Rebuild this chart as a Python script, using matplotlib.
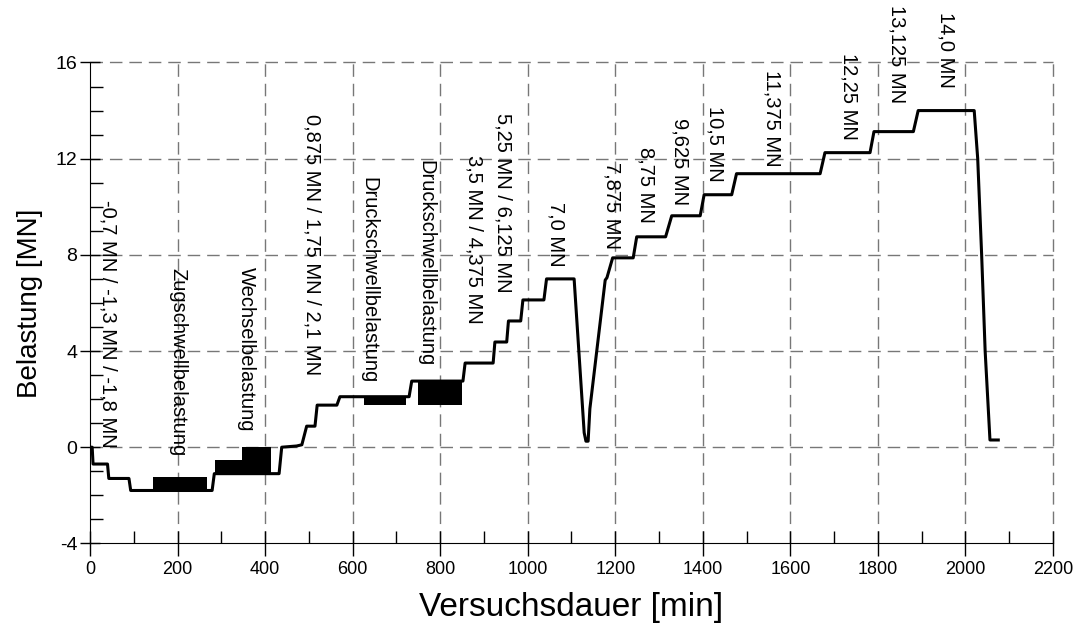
import matplotlib
matplotlib.use('Agg')
import matplotlib.pyplot as plt
from matplotlib.ticker import MultipleLocator

plt.rcParams['font.family'] = ['Liberation Sans', 'DejaVu Sans']
plt.rcParams['axes.unicode_minus'] = False

# load history: time [min] / load [MN]
time_min = [0, 5, 7, 40, 43, 89, 93, 279, 284, 432, 438, 472, 484, 495, 514, 519,
            564, 571, 729, 735, 852, 857, 921, 925, 952, 956, 984, 989, 1037, 1043,
            1106, 1129, 1133, 1138, 1142, 1177, 1181, 1194, 1241, 1249, 1315, 1329,
            1394, 1403, 1466, 1477, 1668, 1679, 1782, 1791, 1881, 1892, 2020, 2028,
            2037, 2045, 2056, 2075]
load_mn = [0, 0, -0.7, -0.7, -1.3, -1.3, -1.8, -1.8, -1.1, -1.1, 0.0, 0.05, 0.1,
           0.875, 0.875, 1.75, 1.75, 2.1, 2.1, 2.75, 2.75, 3.5, 3.5, 4.375, 4.375,
           5.25, 5.25, 6.125, 6.125, 7.0, 7.0, 0.6, 0.25, 0.25, 1.6, 6.95, 7.05,
           7.875, 7.875, 8.75, 8.75, 9.625, 9.625, 10.5, 10.5, 11.375, 11.375, 12.25,
           12.25, 13.125, 13.125, 14.0, 14.0, 12.0, 8.0, 4.0, 0.3, 0.3]

# cyclic loading blocks (shown as solid black bands)
block_start = [145, 286, 348, 627, 750]
block_end = [267, 348, 413, 722, 849]
block_low = [-1.8, -1.1, -1.1, 1.75, 1.75]
block_high = [-1.25, -0.55, 0.0, 2.1, 2.75]

# annotations: text, x position, top of text
ann_text = ['-0,7 MN / -1,3 MN / -1,8 MN', 'Zugschwellbelastung', 'Wechselbelastung',
            '0,875 MN / 1,75 MN / 2,1 MN', 'Druckschwellbelastung', 'Druckschwellbelastung',
            '3,5 MN / 4,375 MN', '5,25 MN / 6,125 MN', '7,0 MN', '7,875 MN', '8,75 MN',
            '9,625 MN', '10,5 MN', '11,375 MN', '12,25 MN', '13,125 MN', '14,0 MN']
ann_x = [41, 201, 358, 507, 638, 768, 877, 943, 1064, 1192, 1270, 1348, 1428, 1558,
         1734, 1843, 1956]
ann_top = [10.3, 7.45, 7.5, 13.85, 11.25, 11.95, 12.15, 13.9, 10.2, 11.85, 12.5, 13.7,
           14.2, 15.7, 16.4, 18.4, 18.1]

fig = plt.figure(figsize=(10.79, 6.23), dpi=100)
ax = fig.add_axes([0.0834, 0.1278, 0.8925, 0.7719])

ax.set_xlim(0, 2200)
ax.set_ylim(-4, 16)
ax.xaxis.set_major_locator(MultipleLocator(200))
ax.xaxis.set_minor_locator(MultipleLocator(100))
ax.yaxis.set_major_locator(MultipleLocator(4))
ax.yaxis.set_minor_locator(MultipleLocator(1))

grid_style = dict(color='#777777', linestyle=(0, (9, 5)), linewidth=1.0)
for v in range(200, 2201, 200):
    ax.axvline(v, **grid_style, zorder=1, clip_on=False)
for v in range(0, 17, 4):
    ax.axhline(v, **grid_style, zorder=1, clip_on=False)

for t0, t1, lo, hi in zip(block_start, block_end, block_low, block_high):
    ax.fill_between([t0, t1], [lo, lo], [hi, hi], color='black', linewidth=0, zorder=3)

ax.plot(time_min, load_mn, color='black', linewidth=2.2, zorder=4)

for txt, x, y in zip(ann_text, ann_x, ann_top):
    ax.text(x, y, txt, rotation=270, ha='center', va='top', fontsize=14.5, zorder=5)

for s in ['top', 'right']:
    ax.spines[s].set_visible(False)
ax.tick_params(which='major', direction='inout', length=18, width=1, labelsize=13)
ax.tick_params(axis='y', which='major', length=14, pad=2, labelsize=14)
ax.tick_params(which='minor', direction='in', length=9, width=1)

ax.set_xlabel('Versuchsdauer [min]', fontsize=24, labelpad=10)
ax.set_ylabel('Belastung [MN]', fontsize=20, labelpad=9)

fig.savefig('out.png', dpi=100)
